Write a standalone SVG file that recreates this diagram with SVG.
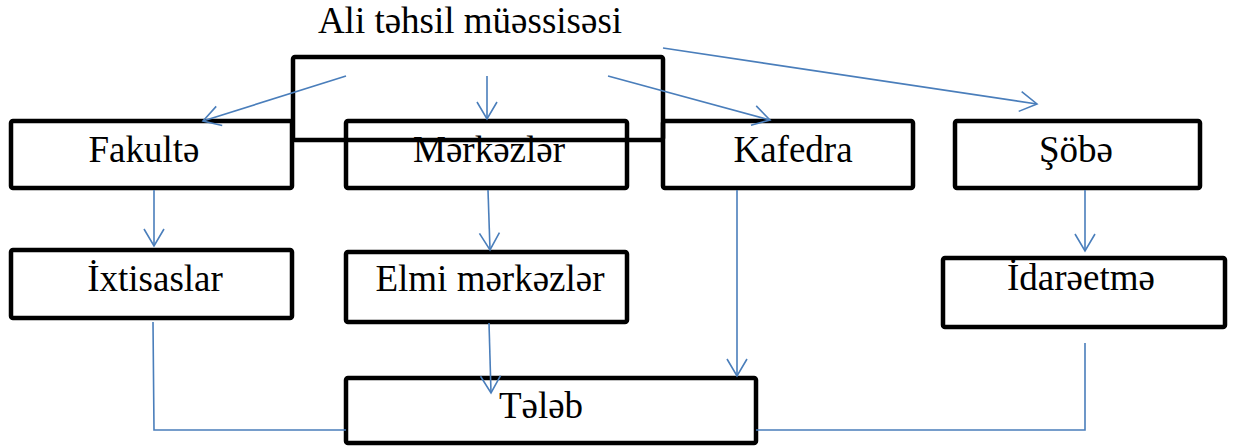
<svg xmlns="http://www.w3.org/2000/svg" width="1245" height="446" viewBox="0 0 1245 446">
<defs>
<marker id="arr" markerUnits="userSpaceOnUse" markerWidth="24" markerHeight="24" viewBox="-20 -12 24 24" refX="0" refY="0" orient="auto">
<path d="M-17,-10 L0,0 L-17,10" fill="none" stroke="#4A7EBB" stroke-width="1.6"/>
</marker>
<style>
.box{fill:#fff;stroke:#000;stroke-width:4.5;}
.frame{fill:none;stroke:#000;stroke-width:4.5;}
.t{font-family:"Liberation Serif","DejaVu Serif","Times New Roman",serif;font-size:37px;fill:#000;text-anchor:middle;}
.c{fill:none;stroke:#4A7EBB;stroke-width:1.6;}
.a{marker-end:url(#arr);}
</style>
</defs>
<rect width="1245" height="446" fill="#fff"/>
<g id="fakulte"><rect class="box" x="11" y="121" width="281" height="67" rx="2"/><text class="t" x="144" y="162">Fakultə</text></g>
<g id="merkezler"><rect class="box" x="346" y="121" width="281" height="67" rx="2"/><text class="t" x="489" y="162">Mərkəzlər</text></g>
<g id="kafedra"><rect class="box" x="663" y="121" width="250" height="67" rx="2"/><text class="t" x="793" y="162">Kafedra</text></g>
<g id="sobe"><rect class="box" x="955" y="121" width="245" height="67" rx="2"/><text class="t" x="1076" y="162">Şöbə</text></g>
<g id="ixtisaslar"><rect class="box" x="11" y="250" width="281" height="68" rx="2"/><text class="t" x="155" y="291">İxtisaslar</text></g>
<g id="elmi"><rect class="box" x="346" y="252" width="281" height="70" rx="2"/><text class="t" x="490" y="291">Elmi mərkəzlər</text></g>
<g id="idareetme"><rect class="box" x="943" y="258" width="282" height="69" rx="2"/><text class="t" x="1081" y="290">İdarəetmə</text></g>
<g id="teleb"><rect class="box" x="346" y="378" width="410" height="65" rx="2"/><text class="t" x="541" y="418">Tələb</text></g>
<g id="ali"><rect class="frame" x="293" y="57" width="370" height="83" rx="2"/><text class="t" x="470" y="33">Ali təhsil müəssisəsi</text></g>
<g id="connectors">
<line class="c a" x1="346" y1="76" x2="203" y2="121"/>
<line class="c a" x1="487" y1="76" x2="487" y2="119"/>
<line class="c a" x1="608" y1="76" x2="770" y2="120"/>
<line class="c a" x1="663" y1="48" x2="1037" y2="104"/>
<line class="c a" x1="154" y1="190" x2="154" y2="246"/>
<line class="c a" x1="488" y1="190" x2="490" y2="250"/>
<line class="c a" x1="489" y1="323" x2="491" y2="393"/>
<line class="c a" x1="737" y1="190" x2="737" y2="376"/>
<line class="c a" x1="1085" y1="190" x2="1085" y2="251"/>
<polyline class="c" points="153,322 154,430 346,430"/>
<polyline class="c" points="1085,343 1085,430 756,430"/>
</g>
</svg>
